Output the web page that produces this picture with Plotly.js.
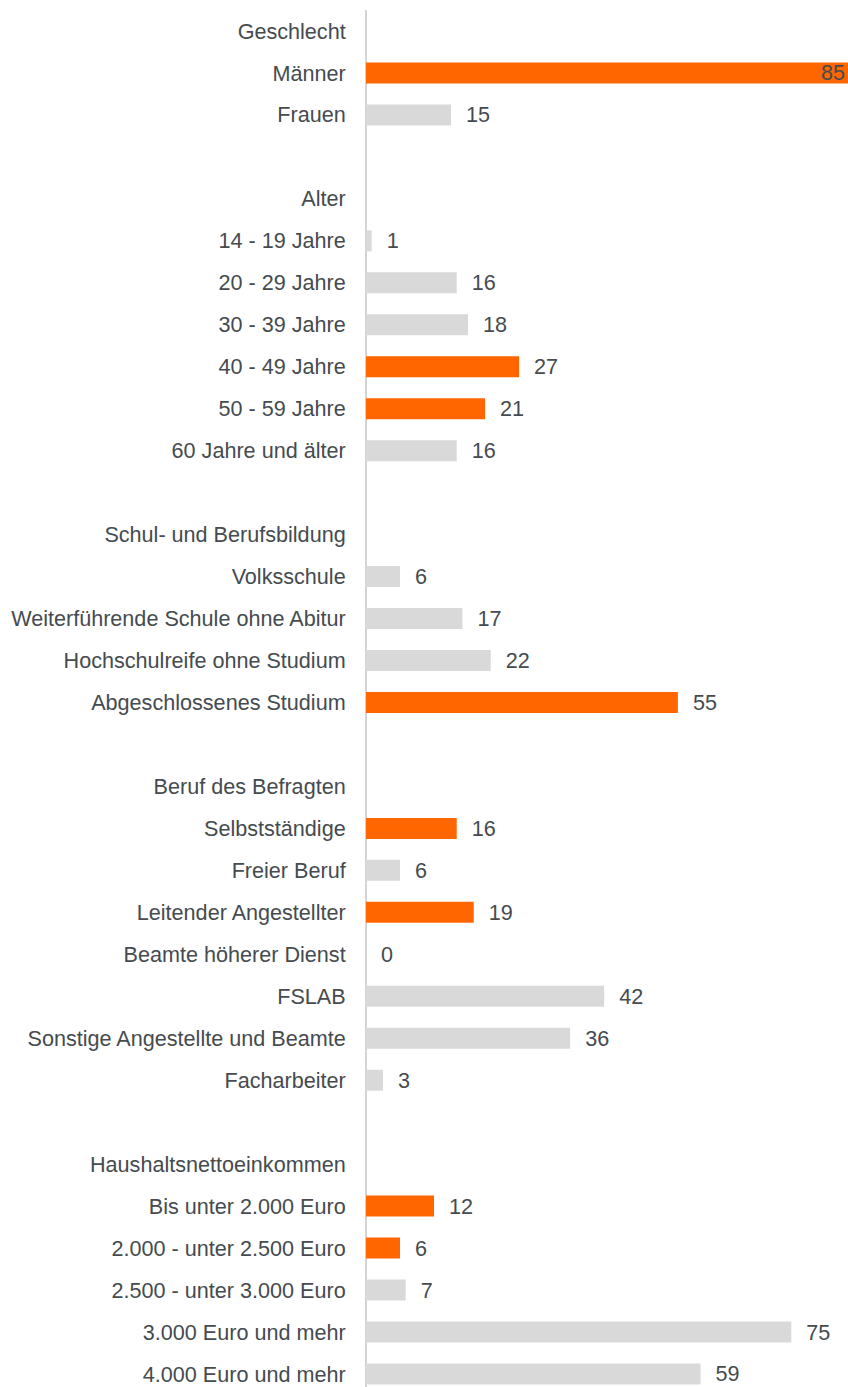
<!DOCTYPE html>
<html>
<head>
<meta charset="utf-8">
<script src="https://cdn.plot.ly/plotly-3.0.1.min.js"></script>
<style>html,body{margin:0;padding:0;background:#fff;}#chart{width:848px;height:1387px;}</style>
</head>
<body>
<div id="chart"></div>
<script>
const labels = ['Geschlecht','Männer','Frauen','','Alter','14 - 19 Jahre','20 - 29 Jahre','30 - 39 Jahre','40 - 49 Jahre','50 - 59 Jahre','60 Jahre und älter','','Schul- und Berufsbildung','Volksschule','Weiterführende Schule ohne Abitur','Hochschulreife ohne Studium','Abgeschlossenes Studium','','Beruf des Befragten','Selbstständige','Freier Beruf','Leitender Angestellter','Beamte höherer Dienst','FSLAB','Sonstige Angestellte und Beamte','Facharbeiter','','Haushaltsnettoeinkommen','Bis unter 2.000 Euro','2.000 - unter 2.500 Euro','2.500 - unter 3.000 Euro','3.000 Euro und mehr','4.000 Euro und mehr'];
const values = [null,85,15,null,null,1,16,18,27,21,16,null,null,6,17,22,55,null,null,16,6,19,0,42,36,3,null,null,12,6,7,75,59];
const highlighted = [0,1,0,0,0,0,0,0,1,1,0,0,0,0,0,0,1,0,0,1,0,1,1,0,0,0,0,0,1,1,0,0,0];

const ORANGE = '#ff6600', GREY = '#d9d9d9', TEXT = '#454b4f';
const FONT = 'Liberation Sans, Arial, sans-serif', FS = 21.6;
const maxV = Math.max(...values.filter(v => v !== null));
const pos = labels.map((_, i) => i);
const colors = highlighted.map(h => h ? ORANGE : GREY);
const textpos = values.map(v => v === null ? 'none' : (v === maxV ? 'inside' : 'outside'));
const texts = values.map(v => v === null ? '' : (v === maxV ? String(v) : '\u00a0\u00a0' + v));

const trace = {
  type: 'bar', orientation: 'h',
  x: values, y: pos,
  width: 0.5,
  marker: {color: colors, line: {width: 0}},
  text: texts,
  textposition: textpos,
  textangle: 0,
  insidetextanchor: 'end',
  constraintext: 'none',
  cliponaxis: false,
  textfont: {family: FONT, size: FS, color: TEXT},
  insidetextfont: {family: FONT, size: FS, color: TEXT},
  outsidetextfont: {family: FONT, size: FS, color: TEXT},
  hoverinfo: 'skip'
};

const layout = {
  width: 848, height: 1387,
  margin: {l: 366, r: 0, t: 10, b: 0, pad: 0},
  paper_bgcolor: '#fff', plot_bgcolor: '#fff',
  showlegend: false,
  font: {family: FONT, size: FS, color: TEXT},
  xaxis: {range: [0, maxV], showgrid: false, showticklabels: false, ticks: '',
          zeroline: true, zerolinecolor: '#d4d4d4', zerolinewidth: 2, showline: false, fixedrange: true},
  yaxis: {range: [32.31, -0.5], tickmode: 'array', tickvals: pos, ticktext: labels,
          showgrid: false, zeroline: false, showline: false,
          ticks: 'outside', ticklen: 15, tickcolor: 'rgba(0,0,0,0)',
          tickfont: {family: FONT, size: FS, color: TEXT}, fixedrange: true}
};

Plotly.newPlot('chart', [trace], layout, {displayModeBar: false, staticPlot: true});
</script>
</body>
</html>
